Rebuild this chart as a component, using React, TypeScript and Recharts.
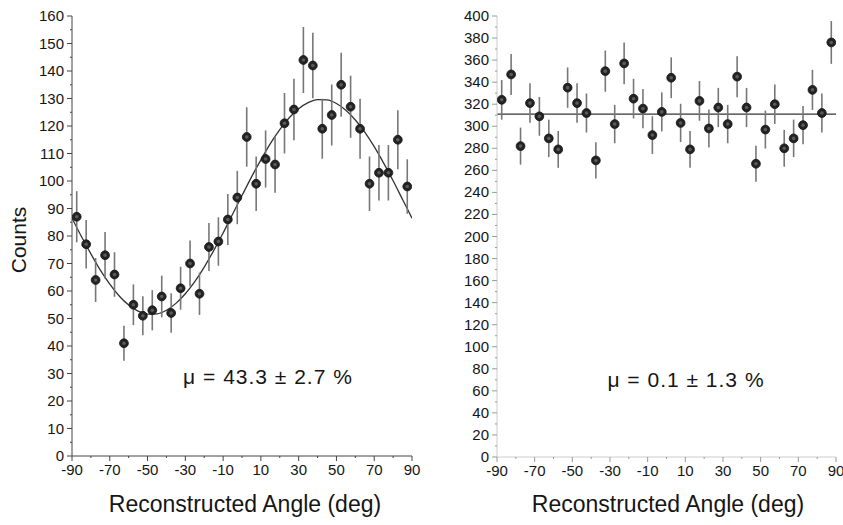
import React from "react";
import {
  ComposedChart,
  Scatter,
  Line,
  XAxis,
  YAxis,
  ErrorBar,
  ReferenceLine,
} from "recharts";

// ---- data ----
const angles = [
  -87.5, -82.5, -77.5, -72.5, -67.5, -62.5, -57.5, -52.5, -47.5, -42.5, -37.5, -32.5,
  -27.5, -22.5, -17.5, -12.5, -7.5, -2.5, 2.5, 7.5, 12.5, 17.5, 22.5, 27.5, 32.5, 37.5,
  42.5, 47.5, 52.5, 57.5, 62.5, 67.5, 72.5, 77.5, 82.5, 87.5,
];
const leftCounts = [
  87, 77, 64, 73, 66, 41, 55, 51, 53, 58, 52, 61, 70, 59, 76, 78, 86, 94, 116, 99, 108, 106,
  121, 126, 144, 142, 119, 124, 135, 127, 119, 99, 103, 103, 115, 98,
];
const leftErrors = [
  9.3, 8.8, 8.0, 8.5, 8.1, 6.4, 7.4, 7.1, 7.3, 7.6, 7.2, 7.8, 8.4, 7.7, 8.7, 8.8, 9.3, 9.7,
  10.8, 9.9, 10.4, 10.3, 11.0, 11.2, 12.0, 11.9, 10.9, 11.1, 11.6, 11.3, 10.9, 9.9, 10.1,
  10.1, 10.7, 9.9,
];
const rightCounts = [
  324, 347, 282, 321, 309, 289, 279, 335, 321, 312, 269, 350, 302, 357, 325, 316, 292, 313,
  344, 303, 279, 323, 298, 317, 302, 345, 317, 266, 297, 320, 280, 289, 301, 333, 312, 376,
];
const rightErrors = [
  18.0, 18.6, 16.8, 17.9, 17.6, 17.0, 16.7, 18.3, 17.9, 17.7, 16.4, 18.7, 17.4, 18.9, 18.0,
  17.8, 17.1, 17.7, 18.5, 17.4, 16.7, 18.0, 17.3, 17.8, 17.4, 18.6, 17.8, 16.3, 17.2, 17.9,
  16.7, 17.0, 17.3, 18.2, 17.7, 19.4,
];
const fitAngles = [
  -90, -85, -80, -75, -70, -65, -60, -55, -50, -45, -40, -35, -30, -25, -20, -15, -10, -5, 0,
  5, 10, 15, 20, 25, 30, 35, 40, 45, 50, 55, 60, 65, 70, 75, 80, 85, 90,
];
const fitValues = [
  86.5, 79.8, 73.5, 67.6, 62.5, 58.2, 54.9, 52.7, 51.6, 51.7, 53.0, 55.5, 59.0, 63.4, 68.7,
  74.7, 81.1, 87.9, 94.7, 101.4, 107.7, 113.6, 118.7, 123.0, 126.3, 128.5, 129.6, 129.5,
  128.2, 125.7, 122.2, 117.8, 112.5, 106.5, 100.1, 93.3, 86.5,
];
const rightFitLevel = 311;

const xTicks = [-90, -80, -70, -60, -50, -40, -30, -20, -10, 0, 10, 20, 30, 40, 50, 60, 70, 80, 90];
const xLabelTicks = [-90, -70, -50, -30, -10, 10, 30, 50, 70, 90];
const leftYTicks = [
  0, 5, 10, 15, 20, 25, 30, 35, 40, 45, 50, 55, 60, 65, 70, 75, 80, 85, 90, 95, 100, 105, 110,
  115, 120, 125, 130, 135, 140, 145, 150, 155, 160,
];
const rightYTicks = [
  0, 10, 20, 30, 40, 50, 60, 70, 80, 90, 100, 110, 120, 130, 140, 150, 160, 170, 180, 190,
  200, 210, 220, 230, 240, 250, 260, 270, 280, 290, 300, 310, 320, 330, 340, 350, 360, 370,
  380, 390, 400,
];

const leftData = angles.map((a, i) => ({ angle: a, counts: leftCounts[i], err: leftErrors[i] }));
const rightData = angles.map((a, i) => ({ angle: a, counts: rightCounts[i], err: rightErrors[i] }));
const fitData = fitAngles.map((a, i) => ({ angle: a, fit: fitValues[i] }));

const FONT = "'Liberation Sans', Arial, Helvetica, sans-serif";

const makeYTick = (labelEvery: number, color: string) => (props: any) => {
  const { x, y, payload } = props;
  const v = payload.value;
  const major = v % labelEvery === 0;
  return (
    <g>
      <line x1={x - (major ? 5 : 2)} x2={x} y1={y} y2={y} stroke={color} strokeWidth={1} />
      {major && (
        <text x={x - 8} y={y + 5} textAnchor="end" fontSize={15} fill="#151515" fontFamily={FONT}>
          {v}
        </text>
      )}
    </g>
  );
};

const makeXTick = (color: string) => (props: any) => {
  const { x, y, payload } = props;
  const v = payload.value;
  const major = xLabelTicks.includes(v);
  return (
    <g>
      <line x1={x} x2={x} y1={y} y2={y + (major ? 5 : 2)} stroke={color} strokeWidth={1} />
      {major && (
        <text x={x} y={y + 19} textAnchor="middle" fontSize={15} fill="#151515" fontFamily={FONT}>
          {v}
        </text>
      )}
    </g>
  );
};

const Dot = (props: any) => {
  const { cx, cy } = props;
  if (cx == null || cy == null) return null;
  return (
    <g>
      <circle cx={cx} cy={cy} r={4.4} fill="#232323" stroke="#111" strokeWidth={0.8} />
      <circle cx={cx} cy={cy} r={1.8} fill="#5a5a5a" />
    </g>
  );
};

export default function App() {
  return (
    <div
      style={{
        position: "absolute",
        left: 0,
        top: 0,
        width: 843,
        height: 525,
        background: "#fff",
        overflow: "hidden",
      }}
    >
      <div style={{ position: "absolute", left: 0, top: 0 }}>
        <ComposedChart width={430} height={525} margin={{ top: 16, right: 18, bottom: 0, left: 0 }}>
          <XAxis
            type="number"
            dataKey="angle"
            domain={[-90, 90]}
            ticks={xTicks}
            interval={0}
            tickSize={0}
            tickMargin={0}
            tickLine={false}
            tick={makeXTick("#444")}
            height={69}
            stroke="#444"
            allowDataOverflow
          />
          <YAxis
            type="number"
            domain={[0, 160]}
            ticks={leftYTicks}
            interval={0}
            tickSize={0}
            tickMargin={0}
            tickLine={false}
            tick={makeYTick(10, "#444")}
            width={72}
            stroke="#444"
            allowDataOverflow
          />
          <Line
            data={fitData}
            dataKey="fit"
            type="monotone"
            stroke="#333"
            strokeWidth={1.3}
            dot={false}
            isAnimationActive={false}
          />
          <Scatter data={leftData} dataKey="counts" shape={Dot} isAnimationActive={false}>
            <ErrorBar dataKey="err" direction="y" width={0} stroke="#777" strokeWidth={1.6} />
          </Scatter>
        </ComposedChart>
      </div>
      <div style={{ position: "absolute", left: 430, top: 0 }}>
        <ComposedChart width={413} height={525} margin={{ top: 16, right: 7, bottom: 0, left: 0 }}>
          <XAxis
            type="number"
            dataKey="angle"
            domain={[-90, 90]}
            ticks={xTicks}
            interval={0}
            tickSize={0}
            tickMargin={0}
            tickLine={false}
            tick={makeXTick("#999")}
            height={68}
            stroke="#ccc"
            allowDataOverflow
          />
          <YAxis
            type="number"
            domain={[0, 400]}
            ticks={rightYTicks}
            interval={0}
            tickSize={0}
            tickMargin={0}
            tickLine={false}
            tick={makeYTick(20, "#999")}
            width={67}
            stroke="#ccc"
            allowDataOverflow
          />
          <ReferenceLine y={rightFitLevel} stroke="#333" strokeWidth={1.4} />
          <Scatter data={rightData} dataKey="counts" shape={Dot} isAnimationActive={false}>
            <ErrorBar dataKey="err" direction="y" width={0} stroke="#777" strokeWidth={1.6} />
          </Scatter>
        </ComposedChart>
      </div>
      <svg
        width={843}
        height={525}
        style={{ position: "absolute", left: 0, top: 0, pointerEvents: "none" }}
      >
        <text
          x={26}
          y={240}
          transform="rotate(-90 26 240)"
          textAnchor="middle"
          fontSize={21}
          fill="#151515"
          fontFamily={FONT}
        >
          Counts
        </text>
        <text x={245} y={512} textAnchor="middle" fontSize={23} fill="#151515" fontFamily={FONT}>
          Reconstructed Angle (deg)
        </text>
        <text x={668} y={512} textAnchor="middle" fontSize={23} fill="#151515" fontFamily={FONT}>
          Reconstructed Angle (deg)
        </text>
        <text
          x={268}
          y={384}
          textAnchor="middle"
          fontSize={21}
          letterSpacing={1}
          fill="#151515"
          fontFamily={FONT}
        >
          μ = 43.3 ± 2.7 %
        </text>
        <text
          x={686}
          y={387}
          textAnchor="middle"
          fontSize={21}
          letterSpacing={1}
          fill="#151515"
          fontFamily={FONT}
        >
          μ = 0.1 ± 1.3 %
        </text>
      </svg>
    </div>
  );
}
